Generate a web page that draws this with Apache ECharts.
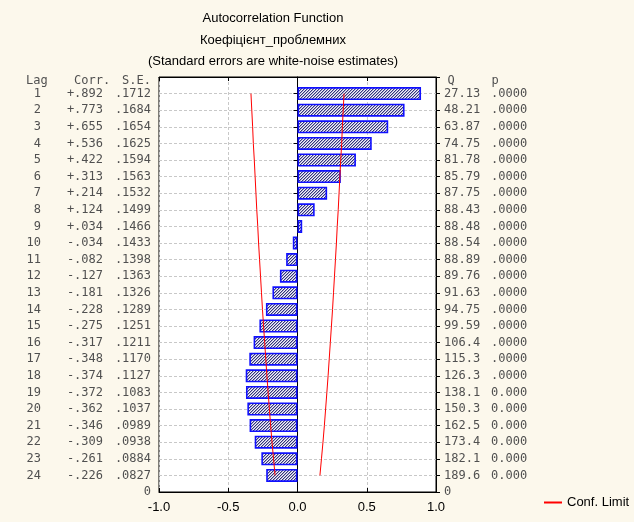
<!DOCTYPE html>
<html><head><meta charset="utf-8">
<script src="https://cdn.jsdelivr.net/npm/echarts@6/dist/echarts.min.js"></script>
<style>html,body{margin:0;padding:0;background:#fcf8ec;} #c{width:634px;height:522px;}</style>
</head><body><div id="c"></div>
<script>
const lags = [1,2,3,4,5,6,7,8,9,10,11,12,13,14,15,16,17,18,19,20,21,22,23,24];
const corr = [0.892,0.773,0.655,0.536,0.422,0.313,0.214,0.124,0.034,-0.034,-0.082,-0.127,-0.181,-0.228,-0.275,-0.317,-0.348,-0.374,-0.372,-0.362,-0.346,-0.309,-0.261,-0.226];
const corrLabels = ['+.892','+.773','+.655','+.536','+.422','+.313','+.214','+.124','+.034','-.034','-.082','-.127','-.181','-.228','-.275','-.317','-.348','-.374','-.372','-.362','-.346','-.309','-.261','-.226'];
const seLabels = ['.1712','.1684','.1654','.1625','.1594','.1563','.1532','.1499','.1466','.1433','.1398','.1363','.1326','.1289','.1251','.1211','.1170','.1127','.1083','.1037','.0989','.0938','.0884','.0827'];
const qLabels = ['27.13','48.21','63.87','74.75','81.78','85.79','87.75','88.43','88.48','88.54','88.89','89.76','91.63','94.75','99.59','106.4','115.3','126.3','138.1','150.3','162.5','173.4','182.1','189.6'];
const pLabels = ['.0000','.0000','.0000','.0000','.0000','.0000','.0000','.0000','.0000','.0000','.0000','.0000','.0000','.0000','.0000','.0000','.0000','.0000','0.000','0.000','0.000','0.000','0.000','0.000'];
const confUpper = [0.336,0.330,0.324,0.319,0.312,0.306,0.300,0.294,0.287,0.281,0.274,0.267,0.260,0.253,0.245,0.237,0.229,0.221,0.212,0.203,0.194,0.184,0.173,0.162];
const confLower = [-0.336,-0.330,-0.324,-0.319,-0.312,-0.306,-0.300,-0.294,-0.287,-0.281,-0.274,-0.267,-0.260,-0.253,-0.245,-0.237,-0.229,-0.221,-0.212,-0.203,-0.194,-0.184,-0.173,-0.162];
const xTickLabels = ['-1.0','-0.5','0.0','0.5','1.0'];
const titles = ['Autocorrelation Function','Коефіцієнт_проблемних','(Standard errors are white-noise estimates)'];

// y categories: bottom baseline, lags 24..1, top edge
const yCats = ['base'].concat(lags.slice().reverse().map(String), ['top']);
const lagOf = idx => 25 - idx; // idx 1..24

function colLabel(arr, zeroText) {
  return function (v, idx) {
    if (idx === 0) return zeroText;
    if (idx >= 25) return '';
    return arr[lagOf(idx) - 1];
  };
}

const pc = document.createElement('canvas'); pc.width = 3; pc.height = 3;
const g = pc.getContext('2d');
g.fillStyle = '#f4f4fa'; g.fillRect(0, 0, 3, 3);
g.fillStyle = '#a8a8cc'; for (let i = 0; i < 3; i++) g.fillRect((3 - i) % 3, i, 1, 1);
g.fillStyle = '#34347c'; for (let i = 0; i < 3; i++) g.fillRect(2 - i, i, 1, 1);

const mono = 'DejaVu Sans Mono';
const sans = 'Liberation Sans';
const monoColor = '#505050';
const monoStyle = {fontFamily: mono, fontSize: 12, color: monoColor, fontWeight: 'normal'};

function catAxis(extra) {
  return Object.assign({
    type: 'category', data: yCats, boundaryGap: false, gridIndex: 0,
    axisLine: {show: false}, axisTick: {show: false}, splitLine: {show: false}
  }, extra);
}
function lab(fmt) {
  return {interval: 0, margin: 8, fontFamily: mono, fontSize: 12, color: monoColor, formatter: fmt};
}
function hdr(text, left, align) {
  return {text: text, left: left, top: 81, textAlign: align, textVerticalAlign: 'middle', padding: 0, textStyle: monoStyle};
}
function ttl(text, top) {
  return {text: text, left: 273, top: top, textAlign: 'center', textVerticalAlign: 'middle', padding: 0,
    textStyle: {fontFamily: sans, fontSize: 13, fontWeight: 'normal', color: '#000'}};
}

const chart = echarts.init(document.getElementById('c'), null, {renderer: 'canvas'});
chart.setOption({
  backgroundColor: '#fcf8ec',
  animation: false,
  title: [
    ttl(titles[0], 18), ttl(titles[1], 40), ttl(titles[2], 61),
    hdr('Lag', 26, 'left'), hdr('Corr.', 74, 'left'), hdr('S.E.', 151, 'right'),
    hdr('Q', 451, 'center'), hdr('p', 495, 'center')
  ],
  legend: {
    data: ['Conf. Limit'], left: 539, top: 491, icon: 'rect', itemWidth: 18, itemHeight: 2,
    textStyle: {fontFamily: sans, fontSize: 13, color: '#000'}, itemGap: 5
  },
  grid: {left: 159, right: 198, top: 77, bottom: 30, containLabel: false, show: true, backgroundColor: '#ffffff', borderColor: '#000', borderWidth: 1},
  xAxis: [
    {type: 'value', min: -1, max: 1, interval: 0.5, position: 'bottom',
      axisLine: {show: true, lineStyle: {color: '#000', width: 1}},
      axisTick: {show: true, inside: true, length: 4, lineStyle: {color: '#000'}},
      axisLabel: {margin: 9, fontFamily: sans, fontSize: 13, color: '#000', formatter: (v) => xTickLabels[Math.round((v + 1) / 0.5)]},
      splitLine: {show: true, lineStyle: {color: '#c8c8c8', type: [3, 2]}}},
    {type: 'value', min: -1, max: 1, interval: 0.5, position: 'top',
      axisLine: {show: true, lineStyle: {color: '#000', width: 1}},
      axisTick: {show: true, inside: true, length: 4, lineStyle: {color: '#000'}},
      axisLabel: {show: false}, splitLine: {show: false}}
  ],
  yAxis: [
    catAxis({position: 'left', axisLine: {show: true, lineStyle: {color: '#000'}},
      axisTick: {show: true, interval: 0, length: 4, lineStyle: {color: '#000'}},
      splitLine: {show: true, interval: 0, lineStyle: {color: '#c8c8c8', type: [3, 2]}},
      axisLabel: lab(colLabel(seLabels, '0'))}),
    catAxis({position: 'left', offset: 48, axisLabel: lab(colLabel(corrLabels, ''))}),
    catAxis({position: 'left', offset: 110, axisLabel: lab(colLabel(lags.map(String), ''))}),
    catAxis({position: 'right', axisLine: {show: true, lineStyle: {color: '#000'}},
      axisTick: {show: true, interval: 0, length: 4, lineStyle: {color: '#000'}},
      axisLabel: lab(colLabel(qLabels, '0'))}),
    catAxis({position: 'right', offset: 47, axisLabel: lab(colLabel(pLabels, ''))})
  ],
  series: [
    {type: 'bar', xAxisIndex: 0, yAxisIndex: 0, barWidth: 13,
      itemStyle: {color: {image: pc, repeat: 'repeat'}, borderColor: '#1010ff', borderWidth: 1.6},
      data: lags.map((l, i) => [corr[i], String(l)]), z: 2},
    {type: 'line', name: 'Conf. Limit', xAxisIndex: 0, yAxisIndex: 0, symbol: 'none', showSymbol: false,
      lineStyle: {color: '#ff0000', width: 1}, itemStyle: {color: '#ff0000'},
      data: lags.map((l, i) => [confLower[i], String(l)]), z: 3},
    {type: 'line', name: 'Conf. Limit', xAxisIndex: 0, yAxisIndex: 0, symbol: 'none', showSymbol: false,
      lineStyle: {color: '#ff0000', width: 1}, itemStyle: {color: '#ff0000'},
      data: lags.map((l, i) => [confUpper[i], String(l)]), z: 3}
  ]
});
</script></body></html>
